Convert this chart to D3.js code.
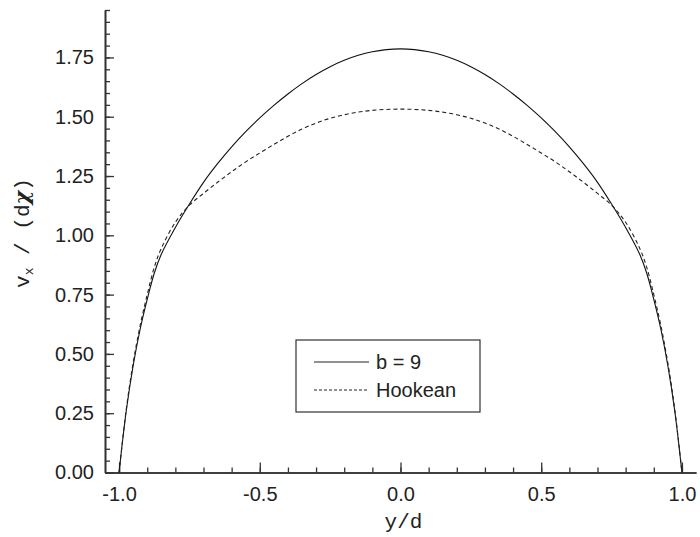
<!DOCTYPE html>
<html><head><meta charset="utf-8">
<script src="https://cdn.jsdelivr.net/npm/d3@7"></script>
<style>
html,body{margin:0;padding:0;background:#fff;}
svg{display:block;}
</style></head>
<body>
<svg id="chart" width="700" height="537"></svg>
<script>
// Half-profile positions (left half, mirrored for the right half)
const yHalf = [-1.000,-0.975,-0.950,-0.925,-0.900,-0.875,-0.850,-0.800,-0.750,-0.700,-0.650,-0.600,-0.550,-0.500,-0.450,-0.400,-0.350,-0.300,-0.250,-0.200,-0.150,-0.100,-0.050,0.000];
const b9Half = [0,0.255,0.450,0.605,0.730,0.840,0.920,1.033,1.132,1.2235,1.302,1.373,1.437,1.495,1.548,1.596,1.6395,1.678,1.711,1.738,1.759,1.774,1.783,1.786];
const hookeanHalf = [0,0.262,0.462,0.620,0.750,0.865,0.945,1.055,1.127,1.1767,1.2237,1.268,1.3098,1.347,1.383,1.4175,1.448,1.4733,1.4933,1.5085,1.5195,1.5268,1.5308,1.532];
const xMajorTicks = [-1.0,-0.5,0.0,0.5,1.0];
const xMinorTicks = [-1.0,-0.9,-0.8,-0.7,-0.6,-0.5,-0.4,-0.3,-0.2,-0.1,0,0.1,0.2,0.3,0.4,0.5,0.6,0.7,0.8,0.9,1.0];
const yMajorTicks = [0,0.25,0.5,0.75,1.0,1.25,1.5,1.75];
const yMinorTicks = [0,0.05,0.1,0.15,0.2,0.25,0.3,0.35,0.4,0.45,0.5,0.55,0.6,0.65,0.7,0.75,0.8,0.85,0.9,0.95,1.0,1.05,1.1,1.15,1.2,1.25,1.3,1.35,1.4,1.45,1.5,1.55,1.6,1.65,1.7,1.75,1.8,1.85,1.9,1.95];
const seriesNames = ["b = 9","Hookean"];

function fullProfile(vals){
  const left = yHalf.map((p,i)=>[p, vals[i]]);
  const right = yHalf.slice(0,-1).map((p,i)=>[-p, vals[i]]).reverse();
  return left.concat(right);
}
const b9 = fullProfile(b9Half);
const hook = fullProfile(hookeanHalf);

const svg = d3.select("#chart");
const x = d3.scaleLinear().domain([-1.05,1.05]).range([105,696]);
const y = d3.scaleLinear().domain([0,1.95]).range([472.5,10]);
const axisColor = "#333";
const font = "'Liberation Sans', Arial, Helvetica, sans-serif";
const fmt1 = d => d3.format(".1f")(d).replace("\u2212","-");
const fmt2 = d => d3.format(".2f")(d).replace("\u2212","-");

// x axis
const gxMinor = svg.append("g").attr("transform","translate(0,472.5)")
  .call(d3.axisBottom(x).tickValues(xMinorTicks).tickSize(-5).tickSizeOuter(0).tickFormat(""));
const gx = svg.append("g").attr("transform","translate(0,472.5)")
  .call(d3.axisBottom(x).tickValues(xMajorTicks).tickSize(-10).tickSizeOuter(0).tickPadding(14).tickFormat(fmt1));
// y axis
const gyMinor = svg.append("g").attr("transform","translate(105,0)")
  .call(d3.axisLeft(y).tickValues(yMinorTicks).tickSize(-5).tickSizeOuter(0).tickFormat(""));
const gy = svg.append("g").attr("transform","translate(105,0)")
  .call(d3.axisLeft(y).tickValues(yMajorTicks).tickSize(-9).tickSizeOuter(0).tickPadding(11).tickFormat(fmt2));

[gxMinor,gx,gyMinor,gy].forEach(g=>{
  g.selectAll("path.domain").attr("stroke",axisColor).attr("stroke-width",1.6);
  g.selectAll(".tick line").attr("stroke",axisColor).attr("stroke-width",1.3);
  g.selectAll(".tick text").attr("fill","#222").style("font-family",font).style("font-size","20px");
});

// curves
const line = d3.line().x(d=>x(d[0])).y(d=>y(d[1])).curve(d3.curveCatmullRom.alpha(0.5));
svg.append("path").datum(b9).attr("d",line).attr("fill","none").attr("stroke","#111").attr("stroke-width",1.1);
svg.append("path").datum(hook).attr("d",line).attr("fill","none").attr("stroke","#222").attr("stroke-width",1.1).attr("stroke-dasharray","4,3");

// axis titles
svg.append("text").attr("x",x(0)+3).attr("y",528).attr("text-anchor","middle")
  .style("font-family","'Liberation Mono','DejaVu Sans Mono',monospace").style("font-size","21px").attr("fill","#222")
  .text("y/d");
const yl = svg.append("text").attr("transform","translate(29,233) rotate(-90)").attr("text-anchor","middle")
  .style("font-family","'Liberation Mono','DejaVu Sans Mono',monospace").style("font-size","21px").attr("fill","#222");
yl.append("tspan").text("v");
yl.append("tspan").attr("dy",4).style("font-size","13px").text("x");
yl.append("tspan").attr("dy",-4).text(" / (d");
yl.append("tspan").style("font-family","'DejaVu Serif',serif").style("font-style","italic").style("font-weight","bold").text("χ");
yl.append("tspan").text(")");

// legend
const lg = svg.append("g");
lg.append("rect").attr("x",296).attr("y",340).attr("width",184).attr("height",72)
  .attr("fill","#fff").attr("stroke",axisColor).attr("stroke-width",1.2);
const styles = [{dash:null},{dash:"3,2"}];
seriesNames.forEach((n,i)=>{
  const yy = 362 + i*28;
  lg.append("line").attr("x1",314).attr("x2",369).attr("y1",yy).attr("y2",yy)
    .attr("stroke","#222").attr("stroke-width",1).attr("stroke-dasharray",styles[i].dash);
  lg.append("text").attr("x",376).attr("y",yy+7).style("font-family",font).style("font-size","20px")
    .attr("fill","#222").text(n);
});
</script>
</body></html>
